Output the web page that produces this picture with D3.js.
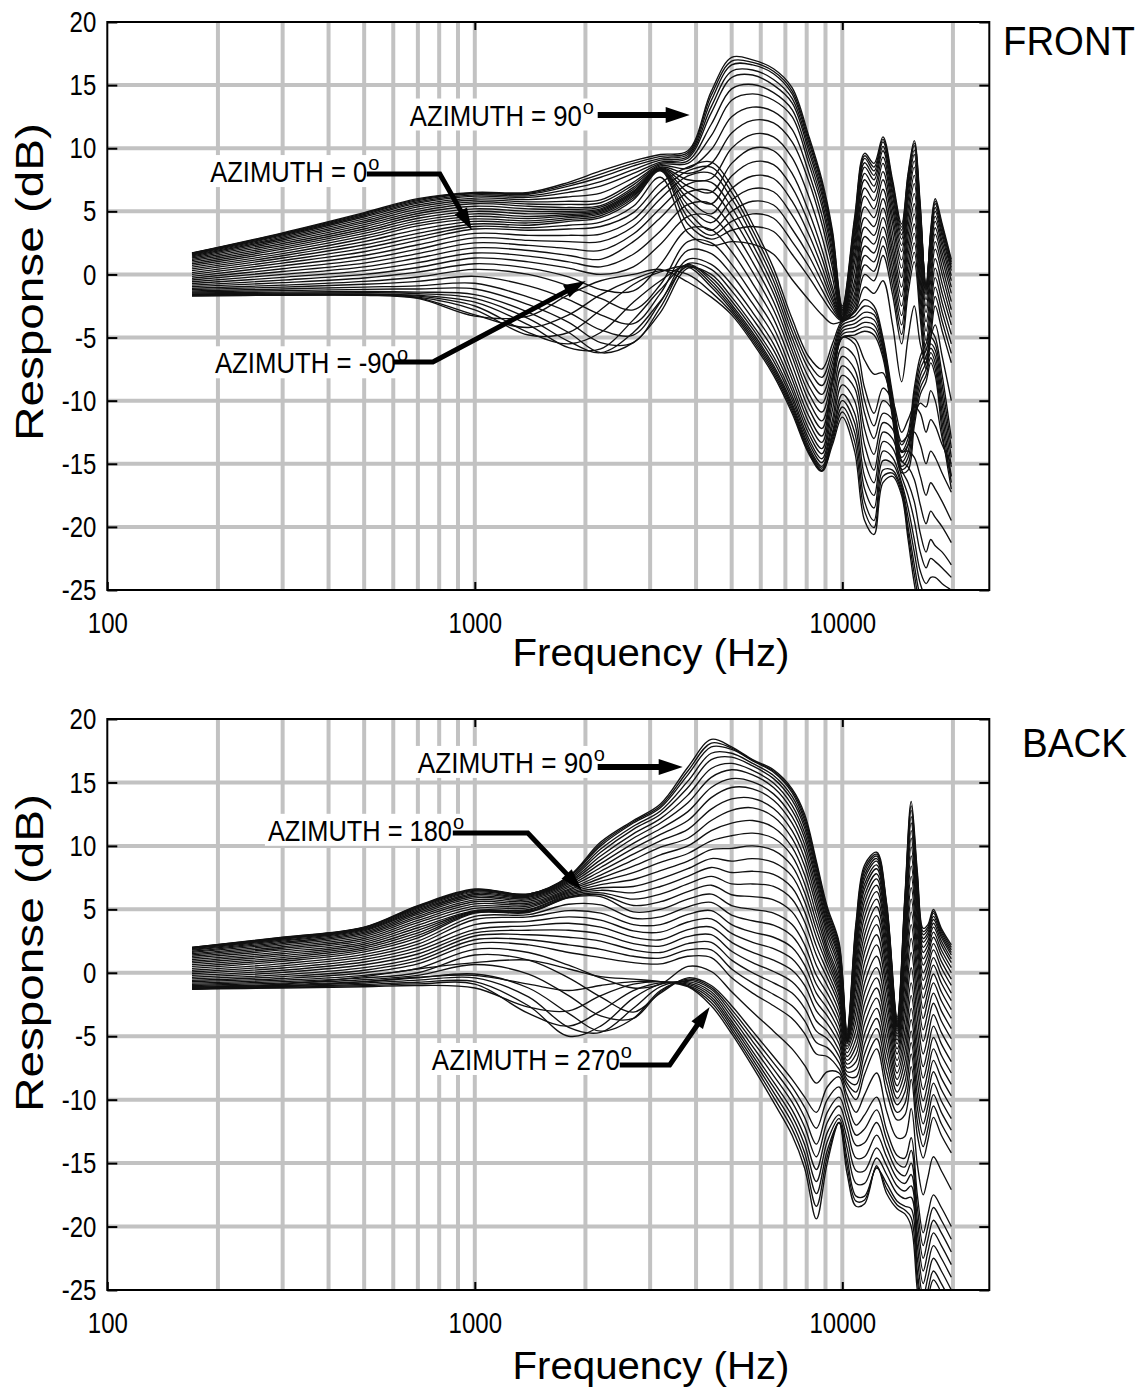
<!DOCTYPE html>
<html>
<head>
<meta charset="utf-8">
<title>Head-related frequency response, front and back azimuths</title>
<script src="https://cdn.jsdelivr.net/npm/d3@7"></script>
<style>
  html, body { margin: 0; padding: 0; background: #fff; }
  svg { display: block; }
  text { font-family: "Liberation Sans", Arial, Helvetica, sans-serif; fill: #000; }
</style>
</head>
<body>
<svg id="chart" width="1145" height="1393"></svg>
<script>
// ---------------- data ----------------
// Frequencies (Hz) at which each response curve is sampled.
const frontFreqs = [170, 300, 500, 700, 1000, 1400, 1800, 2200, 2700, 3200,
  3800, 4400, 5000, 5700, 6500, 7300, 8100, 8800, 9400, 10000,
  10800, 11500, 12200, 12900, 13700, 14500, 15100, 15700, 16300, 16900,
  17400, 17900, 18700, 19800];

const frontAzimuths = [90, 85, 80, 75, 70, 65, 60, 55, 50, 45, 40, 35, 30, 25, 20, 15, 10, 5, 0,
  -5, -10, -15, -20, -25, -30, -35, -40, -45, -50, -55, -60, -65, -70, -75, -80, -85, -90];

// Response (dB), one row per azimuth in frontAzimuths order.
const frontResponse = [
  [1.7, 3.3, 4.9, 6.0, 6.5, 6.5, 7.3, 8.2, 9.0, 9.5, 9.8, 14.5, 17.2, 17.0, 16.3, 14.8, 11.0, 7.5, 3.5, -2.5, 4.5, 9.6, 8.8, 10.9, 7.5, 4.0, 8.0, 10.6, 5.5, -1.5, 3.5, 6.0, 4.0, 1.2],
  [1.69, 3.25, 4.83, 5.93, 6.45, 6.43, 7.15, 7.95, 8.8, 9.35, 9.65, 14.2, 16.9, 16.8, 16.1, 14.55, 10.75, 7.25, 3.25, -2.65, 4.25, 9.4, 8.5, 10.7, 7.25, 3.75, 7.8, 10.4, 5.25, -1.25, 3.35, 5.8, 3.8, 1.0],
  [1.67, 3.2, 4.75, 5.85, 6.4, 6.35, 7.0, 7.7, 8.6, 9.2, 9.5, 13.8, 16.6, 16.6, 15.9, 14.3, 10.5, 7.0, 3.0, -2.8, 4.0, 9.2, 8.2, 10.5, 7.0, 3.5, 7.6, 10.2, 5.0, -1.0, 3.2, 5.6, 3.6, 0.8],
  [1.64, 3.13, 4.65, 5.75, 6.3, 6.23, 6.75, 7.35, 8.3, 9.05, 9.35, 13.3, 16.1, 16.2, 15.45, 13.95, 10.15, 6.65, 2.7, -2.9, 3.6, 8.85, 7.85, 10.15, 6.6, 3.15, 7.2, 9.85, 4.6, -0.9, 2.9, 5.3, 3.3, 0.55],
  [1.6, 3.05, 4.55, 5.65, 6.2, 6.1, 6.5, 7.0, 8.0, 8.9, 9.2, 12.8, 15.6, 15.8, 15.0, 13.6, 9.8, 6.3, 2.4, -3.0, 3.2, 8.5, 7.5, 9.8, 6.2, 2.8, 6.8, 9.5, 4.2, -0.8, 2.6, 5.0, 3.0, 0.3],
  [1.54, 2.95, 4.4, 5.5, 6.05, 5.93, 6.15, 6.45, 7.65, 8.8, 9.0, 11.9, 14.7, 15.05, 14.4, 13.05, 9.3, 5.85, 1.95, -3.1, 2.7, 8.0, 7.0, 9.3, 5.7, 2.3, 6.3, 9.0, 3.7, -1.0, 2.2, 4.6, 2.6, -0.1],
  [1.47, 2.85, 4.25, 5.35, 5.9, 5.75, 5.8, 5.9, 7.3, 8.7, 8.8, 11.0, 13.8, 14.3, 13.8, 12.5, 8.8, 5.4, 1.5, -3.2, 2.2, 7.5, 6.5, 8.8, 5.2, 1.8, 5.8, 8.5, 3.2, -1.2, 1.8, 4.2, 2.2, -0.5],
  [1.39, 2.73, 4.1, 5.18, 5.75, 5.58, 5.55, 5.68, 7.1, 8.6, 8.4, 9.9, 12.5, 13.25, 12.9, 11.5, 8.1, 4.7, 1.0, -3.3, 1.6, 6.85, 5.85, 8.15, 4.6, 1.15, 5.15, 7.85, 2.6, -1.6, 1.3, 3.7, 1.7, -1.0],
  [1.3, 2.6, 3.95, 5.0, 5.6, 5.4, 5.3, 5.45, 6.9, 8.5, 8.0, 8.8, 11.2, 12.2, 12.0, 10.5, 7.4, 4.0, 0.5, -3.4, 1.0, 6.2, 5.2, 7.5, 4.0, 0.5, 4.5, 7.2, 2.0, -2.0, 0.8, 3.2, 1.2, -1.5],
  [1.2, 2.45, 3.78, 4.83, 5.4, 5.2, 5.15, 5.33, 6.75, 8.45, 7.5, 7.6, 10.0, 11.1, 10.9, 9.25, 6.2, 3.0, -0.25, -3.4, 0.25, 5.35, 4.5, 6.75, 3.25, -0.25, 3.75, 6.4, 1.4, -2.5, 0.15, 2.6, 0.6, -2.15],
  [1.09, 2.3, 3.6, 4.65, 5.2, 5.0, 5.0, 5.2, 6.6, 8.4, 7.0, 6.5, 8.8, 10.0, 9.8, 8.0, 5.0, 2.0, -1.0, -3.4, -0.5, 4.5, 3.8, 6.0, 2.5, -1.0, 3.0, 5.6, 0.8, -3.0, -0.5, 2.0, 0.0, -2.8],
  [0.97, 2.15, 3.43, 4.45, 5.0, 4.8, 4.88, 5.1, 6.5, 8.35, 6.5, 5.6, 7.8, 8.9, 8.7, 6.9, 4.1, 1.3, -1.4, -3.45, -1.0, 3.75, 3.1, 5.25, 1.85, -1.75, 2.25, 4.8, 0.15, -3.75, -1.25, 1.25, -0.75, -3.4],
  [0.85, 2.0, 3.25, 4.25, 4.8, 4.6, 4.75, 5.0, 6.4, 8.3, 6.0, 4.8, 6.8, 7.8, 7.6, 5.8, 3.2, 0.6, -1.8, -3.5, -1.5, 3.0, 2.4, 4.5, 1.2, -2.5, 1.5, 4.0, -0.5, -4.5, -2.0, 0.5, -1.5, -4.0],
  [0.72, 1.83, 3.05, 4.05, 4.6, 4.43, 4.63, 4.9, 6.3, 8.3, 5.5, 4.1, 5.9, 6.8, 6.55, 4.7, 2.35, 0.0, -2.1, -3.55, -1.85, 2.25, 1.7, 3.75, 0.5, -3.25, 0.75, 3.25, -1.25, -5.25, -2.75, -0.25, -2.25, -4.75],
  [0.58, 1.65, 2.85, 3.85, 4.4, 4.25, 4.5, 4.8, 6.2, 8.3, 5.0, 3.5, 5.0, 5.8, 5.5, 3.6, 1.5, -0.6, -2.4, -3.6, -2.2, 1.5, 1.0, 3.0, -0.2, -4.0, 0.0, 2.5, -2.0, -6.0, -3.5, -1.0, -3.0, -5.5],
  [0.44, 1.48, 2.6, 3.55, 4.2, 4.08, 4.35, 4.65, 6.05, 8.25, 4.5, 3.1, 4.2, 4.8, 4.45, 2.6, 0.65, -1.2, -2.7, -3.65, -2.5, 0.75, 0.25, 2.25, -0.9, -4.75, -0.75, 1.75, -2.75, -6.75, -4.25, -1.75, -3.75, -6.25],
  [0.3, 1.3, 2.35, 3.25, 4.0, 3.9, 4.2, 4.5, 5.9, 8.2, 4.0, 2.8, 3.5, 3.8, 3.4, 1.6, -0.2, -1.8, -3.0, -3.7, -2.8, 0.0, -0.5, 1.5, -1.6, -5.5, -1.5, 1.0, -3.5, -7.5, -5.0, -2.5, -4.5, -7.0],
  [0.15, 1.1, 2.08, 2.98, 3.8, 3.7, 3.9, 4.15, 5.4, 7.7, 3.3, 2.3, 2.6, 2.4, 1.6, -0.4, -2.0, -3.2, -3.9, -3.7, -3.0, -1.0, -1.5, -0.5, -4.0, -8.5, -5.0, -2.5, -5.5, -7.0, -5.0, -4.0, -6.5, -10.0],
  [0.0, 0.9, 1.8, 2.7, 3.6, 3.5, 3.6, 3.8, 4.9, 7.2, 8.5, 8.9, 7.0, 4.0, 0.5, -3.5, -6.5, -7.5, -5.5, -3.6, -3.0, -2.0, -2.5, -5.0, -9.5, -13.5, -12.5, -9.0, -6.5, -5.5, -4.5, -5.0, -8.0, -13.0],
  [-0.15, 0.68, 1.5, 2.35, 3.25, 3.1, 3.1, 3.2, 4.35, 6.6, 8.2, 8.5, 6.5, 3.5, 0.0, -4.0, -7.0, -8.15, -6.0, -3.8, -3.3, -2.5, -2.85, -5.25, -9.85, -14.0, -13.0, -9.5, -7.0, -6.0, -5.0, -5.5, -8.75, -13.75],
  [-0.3, 0.45, 1.2, 2.0, 2.9, 2.7, 2.6, 2.6, 3.8, 6.0, 7.8, 8.0, 6.0, 3.0, -0.5, -4.5, -7.5, -8.8, -6.5, -4.0, -3.6, -3.0, -3.2, -5.5, -10.2, -14.5, -13.5, -10.0, -7.5, -6.5, -5.5, -6.0, -9.5, -14.5],
  [-0.44, 0.23, 0.9, 1.65, 2.5, 2.3, 2.05, 1.9, 3.2, 5.25, 7.15, 7.3, 5.3, 2.4, -1.0, -5.0, -8.15, -9.5, -7.0, -4.25, -3.9, -3.4, -3.6, -5.75, -10.5, -14.85, -14.0, -10.5, -8.0, -7.0, -5.85, -6.5, -10.25, -15.25],
  [-0.58, 0.0, 0.6, 1.3, 2.1, 1.9, 1.5, 1.2, 2.6, 4.5, 6.5, 6.6, 4.6, 1.8, -1.5, -5.5, -8.8, -10.2, -7.5, -4.5, -4.2, -3.8, -4.0, -6.0, -10.8, -15.2, -14.5, -11.0, -8.5, -7.5, -6.2, -7.0, -11.0, -16.0],
  [-0.72, -0.23, 0.3, 0.93, 1.7, 1.45, 1.0, 0.6, 1.6, 3.45, 5.55, 5.6, 3.7, 1.0, -2.15, -6.0, -9.4, -10.9, -8.0, -4.75, -4.5, -4.15, -4.4, -6.3, -11.1, -15.45, -15.0, -11.5, -9.0, -8.0, -6.6, -7.5, -11.75, -16.5],
  [-0.85, -0.45, 0.0, 0.55, 1.3, 1.0, 0.5, 0.0, 0.6, 2.4, 4.6, 4.6, 2.8, 0.2, -2.8, -6.5, -10.0, -11.6, -8.5, -5.0, -4.8, -4.5, -4.8, -6.6, -11.4, -15.7, -15.5, -12.0, -9.5, -8.5, -7.0, -8.0, -12.5, -17.0],
  [-0.97, -0.65, -0.28, 0.18, 0.85, 0.5, -0.2, -1.2, -1.3, 0.8, 3.6, 3.55, 1.8, -0.7, -3.5, -7.15, -10.6, -12.2, -8.5, -5.0, -5.1, -6.8, -7.9, -7.8, -10.7, -14.1, -13.5, -11.2, -10.2, -10.5, -9.2, -10.0, -13.0, -16.0],
  [-1.09, -0.85, -0.55, -0.2, 0.4, 0.0, -0.9, -1.9, -2.8, -0.8, 2.6, 2.5, 0.8, -1.6, -4.2, -7.8, -11.2, -12.8, -8.5, -5.0, -5.5, -9.0, -11.0, -9.0, -10.0, -12.5, -11.5, -10.5, -11.0, -12.5, -11.5, -12.0, -13.5, -15.0],
  [-1.2, -1.0, -0.78, -0.55, -0.15, -0.9, -2.0, -3.2, -3.9, -1.5, 1.9, 1.65, 0.0, -2.3, -4.85, -8.3, -11.7, -13.3, -9.25, -5.75, -6.5, -10.0, -12.0, -10.0, -10.75, -13.25, -12.75, -12.5, -13.5, -15.0, -14.0, -14.5, -15.75, -17.25],
  [-1.3, -1.15, -1.0, -0.9, -0.7, -1.8, -3.0, -4.4, -4.8, -2.2, 1.2, 0.8, -0.8, -3.0, -5.5, -8.8, -12.2, -13.8, -10.0, -6.5, -7.5, -11.0, -13.0, -11.0, -11.5, -14.0, -14.0, -14.5, -16.0, -17.5, -16.5, -17.0, -18.0, -19.5],
  [-1.39, -1.28, -1.18, -1.15, -1.15, -2.4, -3.8, -5.4, -5.4, -2.6, 0.85, 0.4, -1.3, -3.5, -6.0, -9.2, -12.6, -14.2, -10.75, -7.25, -8.25, -12.25, -14.25, -11.75, -12.25, -14.75, -15.25, -16.25, -18.25, -19.75, -18.75, -19.25, -20.0, -21.25],
  [-1.47, -1.4, -1.35, -1.4, -1.6, -3.0, -4.6, -6.2, -5.4, -3.0, 0.5, 0.0, -1.8, -4.0, -6.5, -9.6, -13.0, -14.6, -11.5, -8.0, -9.0, -13.5, -15.5, -12.5, -13.0, -15.5, -16.5, -18.0, -20.5, -22.0, -21.0, -21.5, -22.0, -23.0],
  [-1.54, -1.48, -1.45, -1.52, -1.9, -3.5, -5.3, -6.2, -4.6, -2.1, 0.65, -0.25, -2.1, -4.3, -6.85, -9.9, -13.3, -14.9, -12.0, -8.75, -10.0, -14.75, -16.5, -13.25, -13.75, -16.0, -17.5, -19.5, -22.0, -23.25, -22.5, -22.75, -23.25, -24.0],
  [-1.6, -1.55, -1.55, -1.65, -2.2, -4.0, -5.8, -5.9, -3.6, -1.2, 0.8, -0.5, -2.4, -4.6, -7.2, -10.2, -13.6, -15.2, -12.5, -9.5, -11.0, -16.0, -17.5, -14.0, -14.5, -16.5, -18.5, -21.0, -23.5, -24.5, -24.0, -24.0, -24.5, -25.0],
  [-1.64, -1.59, -1.59, -1.72, -2.5, -4.6, -5.5, -4.6, -2.2, -0.5, 0.7, -0.75, -2.6, -4.8, -7.4, -10.4, -13.8, -15.35, -12.75, -10.0, -11.75, -17.0, -18.5, -14.75, -15.0, -16.75, -19.25, -22.0, -24.5, -25.5, -25.0, -25.0, -25.25, -25.75],
  [-1.67, -1.62, -1.62, -1.8, -2.8, -4.8, -4.6, -2.8, -0.8, 0.2, 0.6, -1.0, -2.8, -5.0, -7.6, -10.6, -14.0, -15.5, -13.0, -10.5, -12.5, -18.0, -19.5, -15.5, -15.5, -17.0, -20.0, -23.0, -25.5, -26.5, -26.0, -26.0, -26.0, -26.5],
  [-1.69, -1.64, -1.64, -1.85, -3.2, -4.2, -3.2, -1.6, -0.4, 0.3, 0.0, -1.4, -3.0, -5.2, -7.8, -10.8, -14.1, -15.55, -13.25, -10.9, -13.25, -18.75, -20.05, -16.0, -15.75, -17.25, -20.5, -23.75, -26.25, -27.25, -26.75, -26.75, -26.75, -27.25],
  [-1.7, -1.65, -1.65, -1.9, -3.3, -3.3, -1.6, -0.5, 0.0, 0.4, -0.6, -1.8, -3.2, -5.4, -8.0, -11.0, -14.2, -15.6, -13.5, -11.3, -14.0, -19.5, -20.6, -16.5, -16.0, -17.5, -21.0, -24.5, -27.0, -28.0, -27.5, -27.5, -27.5, -28.0]
];

const backFreqs = [170, 300, 500, 700, 1000, 1400, 1800, 2200, 2700, 3200,
  3800, 4400, 5000, 5700, 6500, 7300, 7900, 8500, 9100, 9800,
  10300, 10900, 11500, 12400, 13200, 14100, 14800, 15400, 16000, 16600,
  17100, 17700, 18600, 19800];

const backAzimuths = [90, 95, 100, 105, 110, 115, 120, 125, 130, 135, 140, 145, 150, 155, 160, 165, 170, 175, 180,
  185, 190, 195, 200, 205, 210, 215, 220, 225, 230, 235, 240, 245, 250, 255, 260, 265, 270];

// Response (dB), one row per azimuth in backAzimuths order.
const backResponse = [
  [2.0, 2.8, 3.6, 5.3, 6.6, 6.2, 7.6, 10.3, 12.0, 13.3, 16.2, 18.4, 17.8, 16.8, 16.0, 14.5, 12.5, 8.8, 5.2, 2.4, -4.5, 4.0, 8.5, 9.5, 5.5, -3.5, 6.0, 13.5, 8.0, 3.5, 3.8, 5.0, 3.5, 2.2],
  [1.99, 2.78, 3.58, 5.25, 6.55, 6.2, 7.55, 10.15, 11.9, 13.15, 15.9, 18.1, 17.7, 16.75, 15.9, 14.35, 12.25, 8.6, 5.0, 2.2, -4.65, 3.75, 8.25, 9.35, 5.35, -3.65, 5.8, 13.15, 7.7, 3.25, 3.6, 4.85, 3.35, 2.0],
  [1.97, 2.75, 3.55, 5.2, 6.5, 6.2, 7.5, 10.0, 11.8, 13.0, 15.6, 17.8, 17.6, 16.7, 15.8, 14.2, 12.0, 8.4, 4.8, 2.0, -4.8, 3.5, 8.0, 9.2, 5.2, -3.8, 5.6, 12.8, 7.4, 3.0, 3.4, 4.7, 3.2, 1.8],
  [1.94, 2.7, 3.5, 5.13, 6.43, 6.15, 7.4, 9.75, 11.55, 12.75, 15.1, 17.3, 17.3, 16.5, 15.55, 13.9, 11.7, 8.1, 4.55, 1.75, -4.9, 3.2, 7.7, 9.0, 5.0, -3.9, 5.3, 12.3, 7.0, 2.7, 3.15, 4.45, 3.0, 1.6],
  [1.9, 2.65, 3.45, 5.05, 6.35, 6.1, 7.3, 9.5, 11.3, 12.5, 14.6, 16.8, 17.0, 16.3, 15.3, 13.6, 11.4, 7.8, 4.3, 1.5, -5.0, 2.9, 7.4, 8.8, 4.8, -4.0, 5.0, 11.8, 6.6, 2.4, 2.9, 4.2, 2.8, 1.4],
  [1.84, 2.58, 3.38, 4.95, 6.25, 6.03, 7.2, 9.2, 10.95, 12.15, 14.0, 16.1, 16.5, 15.95, 14.95, 13.2, 11.0, 7.45, 4.0, 1.25, -5.1, 2.55, 7.0, 8.5, 4.5, -4.1, 4.6, 11.2, 6.1, 2.0, 2.55, 3.9, 2.5, 1.1],
  [1.78, 2.5, 3.3, 4.85, 6.15, 5.95, 7.1, 8.9, 10.6, 11.8, 13.4, 15.4, 16.0, 15.6, 14.6, 12.8, 10.6, 7.1, 3.7, 1.0, -5.2, 2.2, 6.6, 8.2, 4.2, -4.2, 4.2, 10.6, 5.6, 1.6, 2.2, 3.6, 2.2, 0.8],
  [1.7, 2.4, 3.2, 4.73, 6.03, 5.85, 6.98, 8.6, 10.2, 11.35, 12.7, 14.6, 15.3, 15.05, 14.1, 12.3, 10.1, 6.65, 3.35, 0.65, -5.25, 1.75, 6.1, 7.8, 3.8, -4.25, 3.7, 9.9, 5.0, 1.1, 1.8, 3.2, 1.8, 0.4],
  [1.61, 2.3, 3.1, 4.6, 5.9, 5.75, 6.85, 8.3, 9.8, 10.9, 12.0, 13.8, 14.6, 14.5, 13.6, 11.8, 9.6, 6.2, 3.0, 0.3, -5.3, 1.3, 5.6, 7.4, 3.4, -4.3, 3.2, 9.2, 4.4, 0.6, 1.4, 2.8, 1.4, 0.0],
  [1.51, 2.18, 2.98, 4.45, 5.75, 5.63, 6.73, 8.0, 9.35, 10.4, 11.3, 12.9, 13.7, 13.75, 12.95, 11.2, 9.0, 5.7, 2.55, -0.1, -5.35, 0.75, 5.0, 6.9, 2.9, -4.45, 2.6, 8.4, 3.7, 0.0, 0.9, 2.3, 0.9, -0.5],
  [1.41, 2.05, 2.85, 4.3, 5.6, 5.5, 6.6, 7.7, 8.9, 9.9, 10.6, 12.0, 12.8, 13.0, 12.3, 10.6, 8.4, 5.2, 2.1, -0.5, -5.4, 0.2, 4.4, 6.4, 2.4, -4.6, 2.0, 7.6, 3.0, -0.6, 0.4, 1.8, 0.4, -1.0],
  [1.3, 1.93, 2.7, 4.13, 5.43, 5.38, 6.5, 7.45, 8.4, 9.3, 10.0, 11.2, 11.8, 12.0, 11.45, 9.9, 7.7, 4.6, 1.75, -0.85, -5.4, -0.4, 3.7, 5.8, 1.8, -4.8, 1.3, 6.7, 2.2, -1.3, -0.2, 1.2, -0.2, -1.6],
  [1.18, 1.8, 2.55, 3.95, 5.25, 5.25, 6.4, 7.2, 7.9, 8.7, 9.4, 10.4, 10.8, 11.0, 10.6, 9.2, 7.0, 4.0, 1.4, -1.2, -5.4, -1.0, 3.0, 5.2, 1.2, -5.0, 0.6, 5.8, 1.4, -2.0, -0.8, 0.6, -0.8, -2.2],
  [1.05, 1.65, 2.4, 3.75, 5.08, 5.13, 6.3, 6.95, 7.35, 8.05, 8.8, 9.7, 9.8, 10.0, 9.65, 8.4, 6.3, 3.4, 1.0, -1.5, -5.5, -1.7, 2.3, 4.5, 0.6, -5.3, -0.2, 4.8, 0.5, -2.8, -1.5, -0.1, -1.5, -2.9],
  [0.91, 1.5, 2.25, 3.55, 4.9, 5.0, 6.2, 6.7, 6.8, 7.4, 8.2, 9.0, 8.8, 9.0, 8.7, 7.6, 5.6, 2.8, 0.6, -1.8, -5.6, -2.4, 1.6, 3.8, 0.0, -5.6, -1.0, 3.8, -0.4, -3.6, -2.2, -0.8, -2.2, -3.6],
  [0.78, 1.35, 2.1, 3.35, 4.85, 4.93, 6.1, 6.5, 6.3, 6.8, 7.6, 8.3, 7.9, 8.0, 7.75, 6.7, 4.8, 2.1, 0.1, -2.2, -5.8, -3.1, 0.8, 3.0, -0.7, -6.0, -1.9, 2.7, -1.4, -4.5, -3.1, -1.6, -3.0, -4.4],
  [0.64, 1.2, 1.95, 3.15, 4.8, 4.85, 6.0, 6.3, 5.8, 6.2, 7.0, 7.6, 7.0, 7.0, 6.8, 5.8, 4.0, 1.4, -0.4, -2.6, -6.0, -3.8, 0.0, 2.2, -1.4, -6.4, -2.8, 1.6, -2.4, -5.4, -4.0, -2.4, -3.8, -5.2],
  [0.5, 1.05, 1.8, 2.95, 4.75, 4.8, 5.95, 6.15, 5.3, 5.6, 6.4, 6.9, 6.15, 6.0, 5.75, 4.8, 3.1, 0.6, -1.0, -3.1, -6.3, -4.5, -0.8, 1.3, -2.2, -6.9, -3.7, 0.4, -3.5, -6.4, -5.0, -3.3, -4.7, -6.1],
  [0.35, 0.9, 1.65, 2.75, 4.7, 4.75, 5.9, 6.0, 4.8, 5.0, 5.8, 6.2, 5.3, 5.0, 4.7, 3.8, 2.2, -0.2, -1.6, -3.6, -6.6, -5.2, -1.6, 0.4, -3.0, -7.4, -4.6, -0.8, -4.6, -7.4, -6.0, -4.2, -5.6, -7.0],
  [0.2, 0.72, 1.45, 2.5, 4.45, 4.58, 5.4, 5.35, 4.3, 4.4, 5.2, 5.55, 4.55, 4.1, 3.75, 2.9, 1.4, -0.9, -2.2, -4.1, -6.9, -5.8, -2.4, -0.4, -3.8, -7.9, -5.4, -1.8, -5.6, -8.3, -6.9, -5.1, -6.5, -7.9],
  [0.06, 0.55, 1.25, 2.25, 4.2, 4.4, 4.9, 4.7, 3.8, 3.8, 4.6, 4.9, 3.8, 3.2, 2.8, 2.0, 0.6, -1.6, -2.8, -4.6, -7.2, -6.4, -3.2, -1.2, -4.6, -8.4, -6.2, -2.8, -6.6, -9.2, -7.8, -6.0, -7.4, -8.8],
  [-0.08, 0.38, 1.05, 2.0, 3.8, 4.05, 4.4, 4.15, 3.3, 3.2, 4.0, 4.25, 3.1, 2.4, 1.9, 1.1, -0.2, -2.3, -3.4, -5.1, -7.5, -7.0, -4.0, -2.0, -5.4, -8.9, -7.0, -3.7, -7.6, -10.1, -8.7, -6.9, -8.3, -9.7],
  [-0.21, 0.2, 0.85, 1.75, 3.4, 3.7, 3.9, 3.6, 2.8, 2.6, 3.4, 3.6, 2.4, 1.6, 1.0, 0.2, -1.0, -3.0, -4.0, -5.6, -7.8, -7.6, -4.8, -2.8, -6.2, -9.4, -7.8, -4.6, -8.6, -11.0, -9.6, -7.8, -9.2, -10.6],
  [-0.35, 0.03, 0.63, 1.48, 3.15, 3.35, 3.35, 3.05, 2.3, 2.1, 2.85, 3.0, 1.7, 0.8, 0.1, -0.7, -1.9, -3.8, -4.6, -6.1, -8.1, -8.2, -5.6, -3.6, -7.0, -9.9, -8.6, -5.5, -9.6, -11.9, -10.5, -8.7, -10.1, -11.5],
  [-0.48, -0.15, 0.4, 1.2, 2.9, 3.0, 2.8, 2.5, 1.8, 1.6, 2.3, 2.4, 1.0, 0.0, -0.8, -1.6, -2.8, -4.6, -5.2, -6.6, -8.4, -8.8, -6.4, -4.4, -7.8, -10.4, -9.4, -6.4, -10.6, -12.8, -11.4, -9.6, -11.0, -12.4],
  [-0.6, -0.3, 0.2, 0.95, 2.6, 2.6, 2.2, 1.85, 1.3, 1.15, 1.8, 1.8, 0.3, -0.8, -1.7, -2.6, -3.8, -5.5, -5.9, -7.1, -8.7, -9.4, -7.2, -5.2, -8.6, -11.0, -10.3, -7.4, -11.7, -13.7, -12.3, -10.5, -11.9, -13.3],
  [-0.71, -0.45, 0.0, 0.7, 2.3, 2.2, 1.6, 1.2, 0.8, 0.7, 1.3, 1.2, -0.4, -1.6, -2.6, -3.6, -4.8, -6.4, -6.6, -7.6, -9.0, -10.0, -8.0, -6.0, -9.4, -11.6, -11.2, -8.4, -12.8, -14.6, -13.2, -11.4, -12.8, -14.2],
  [-0.81, -0.58, -0.2, 0.35, 1.85, 1.6, 0.6, -0.4, -1.2, -0.9, 0.5, 0.1, -1.5, -3.1, -4.6, -6.0, -7.3, -8.7, -7.8, -7.9, -9.6, -11.0, -9.6, -7.9, -10.9, -13.0, -12.9, -10.7, -15.1, -17.5, -16.1, -14.5, -15.6, -17.1],
  [-0.91, -0.7, -0.4, 0.0, 1.4, 1.0, -0.4, -1.9, -3.1, -1.6, -0.4, -1.0, -2.6, -4.6, -6.6, -8.4, -9.8, -11.0, -9.0, -8.2, -10.2, -12.0, -11.2, -9.8, -12.4, -14.4, -14.6, -13.0, -17.5, -20.5, -19.0, -17.5, -18.5, -20.0],
  [-1.0, -0.81, -0.55, -0.2, 0.65, -0.1, -1.8, -3.4, -3.6, -1.5, -0.5, -1.15, -2.9, -5.0, -7.1, -9.0, -10.6, -12.25, -10.0, -9.0, -10.85, -12.8, -12.3, -10.8, -13.1, -15.0, -15.3, -14.0, -18.5, -21.5, -20.0, -18.5, -19.5, -21.0],
  [-1.08, -0.92, -0.7, -0.4, -0.1, -1.2, -3.2, -4.6, -3.6, -1.4, -0.6, -1.3, -3.2, -5.4, -7.6, -9.6, -11.4, -13.5, -11.0, -9.8, -11.5, -13.6, -13.4, -11.8, -13.8, -15.6, -16.0, -15.0, -19.5, -22.5, -21.0, -19.5, -20.5, -22.0],
  [-1.14, -1.0, -0.81, -0.58, -0.4, -1.9, -4.3, -4.7, -2.8, -1.1, -0.7, -1.5, -3.5, -5.8, -8.1, -10.2, -12.15, -14.5, -11.8, -10.5, -12.25, -14.6, -14.5, -12.8, -14.5, -16.2, -16.6, -15.9, -20.5, -23.5, -22.0, -20.5, -21.5, -23.0],
  [-1.2, -1.08, -0.92, -0.75, -0.7, -2.6, -5.0, -4.2, -2.0, -0.9, -0.8, -1.7, -3.8, -6.2, -8.6, -10.8, -12.9, -15.5, -12.6, -11.2, -13.0, -15.6, -15.6, -13.8, -15.2, -16.8, -17.2, -16.8, -21.5, -24.5, -23.0, -21.5, -22.5, -24.0],
  [-1.24, -1.14, -1.01, -0.88, -0.9, -3.2, -4.2, -3.0, -1.4, -0.8, -0.9, -1.9, -4.05, -6.5, -9.0, -11.3, -13.55, -16.45, -13.3, -11.5, -13.8, -16.6, -16.6, -14.6, -15.9, -17.4, -17.8, -17.7, -22.5, -25.5, -24.0, -22.5, -23.5, -25.0],
  [-1.28, -1.2, -1.1, -1.0, -1.2, -2.7, -3.0, -1.8, -0.9, -0.7, -1.0, -2.1, -4.3, -6.8, -9.4, -11.8, -14.2, -17.4, -14.0, -11.8, -14.6, -17.6, -17.6, -15.4, -16.6, -18.0, -18.4, -18.6, -23.5, -26.5, -25.0, -23.5, -24.5, -26.0],
  [-1.29, -1.05, -0.7, -0.35, -0.2, -0.9, -1.4, -1.0, -0.7, -0.7, -1.05, -2.35, -4.55, -7.1, -9.8, -12.3, -14.8, -18.4, -14.5, -11.8, -15.2, -18.0, -17.9, -15.3, -17.0, -18.3, -18.7, -19.3, -24.2, -27.2, -25.7, -24.2, -25.2, -26.7],
  [-1.3, -0.9, -0.3, 0.3, 0.8, 1.0, 0.3, -0.3, -0.5, -0.7, -1.1, -2.6, -4.8, -7.4, -10.2, -12.8, -15.4, -19.4, -15.0, -11.8, -15.8, -18.4, -18.2, -15.2, -17.4, -18.6, -19.0, -20.0, -25.0, -28.0, -26.5, -25.0, -26.0, -27.5]
];

// Axis ticks and grid positions.
const yTickValues = [20, 15, 10, 5, 0, -5, -10, -15, -20, -25];
const xTickValues = [100, 1000, 10000];
const xFrameTicks = [1000, 10000];
const gridFreqs = [200, 300, 400, 500, 600, 700, 800, 900, 1000,
  2000, 3000, 4000, 5000, 6000, 7000, 8000, 9000, 10000, 20000];
const gridLevels = [15, 10, 5, 0, -5, -10, -15, -20];

// Callouts, anchored in (Hz, dB); the last path point is the arrow tip.
const frontNotes = [
  { label: "AZIMUTH = 90", at: [665.6, 11.8], len: 172, path: [[2160, 12.63], [3843, 12.63]], block: true },
  { label: "AZIMUTH = 0", at: [190.5, 7.32], len: 157, path: [[508.5, 7.95], [803.3, 7.95], [981.3, 3.52]], block: false },
  { label: "AZIMUTH = -90", at: [196.3, -7.83], len: 181, path: [[598.4, -6.94], [768.9, -6.94], [2004, -0.52]], block: false }
];
const backNotes = [
  { label: "AZIMUTH = 90", at: [699.8, 15.75], len: 175, path: [[2160, 16.22], [3679, 16.22]], block: true },
  { label: "AZIMUTH = 180", at: [273.5, 10.4], len: 184, path: [[871.3, 11.02], [1394, 11.02], [1954, 6.53]], block: false },
  { label: "AZIMUTH = 270", at: [764.1, -7.66], len: 188, path: [[2480, -7.27], [3391, -7.27], [4357, -2.70]], block: false }
];

// ---------------- layout ----------------
const svg = d3.select("#chart");
const defs = svg.append("defs");
const plotLeft = 107.3, plotRight = 989.3;
const fMax = Math.pow(10, 4.4);
const gridColor = "#c2c2c2";
const labelFormat = d => String(d);   // plain hyphen-minus, as on the printed axes

const panels = [
  { id: "front", top: 22, bottom: 590, freqs: frontFreqs, rows: frontResponse, notes: frontNotes,
    title: "FRONT", titleX: 1003, titleY: 55, titleLen: 132, xTitleY: 666, yTitleY: 282 },
  { id: "back", top: 719, bottom: 1290, freqs: backFreqs, rows: backResponse, notes: backNotes,
    title: "BACK", titleX: 1022, titleY: 757, titleLen: 105, xTitleY: 1379, yTitleY: 953 }
];

function arrowHead(g, tip, from, length, half) {
  const dx = tip[0] - from[0], dy = tip[1] - from[1];
  const d = Math.hypot(dx, dy), ux = dx / d, uy = dy / d;
  const bx = tip[0] - ux * length, by = tip[1] - uy * length;
  g.append("path")
    .attr("d", `M${tip[0]},${tip[1]}L${bx - uy * half},${by + ux * half}L${bx + uy * half},${by - ux * half}Z`)
    .attr("fill", "#000");
  return [bx + ux * 2, by + uy * 2];
}

function drawPanel(p) {
  const x = d3.scaleLog().domain([100, fMax]).range([plotLeft, plotRight]);
  const y = d3.scaleLinear().domain([-25, 20]).range([p.bottom, p.top]);
  const g = svg.append("g").attr("class", "panel-" + p.id);

  // grid
  g.append("g").selectAll("line").data(gridFreqs).join("line")
    .attr("x1", d => x(d)).attr("x2", d => x(d))
    .attr("y1", p.top).attr("y2", p.bottom)
    .attr("stroke", gridColor).attr("stroke-width", 4);
  g.append("g").selectAll("line").data(gridLevels).join("line")
    .attr("x1", plotLeft).attr("x2", plotRight)
    .attr("y1", d => y(d)).attr("y2", d => y(d))
    .attr("stroke", gridColor).attr("stroke-width", 4);

  // curves
  const clipId = "clip-" + p.id;
  defs.append("clipPath").attr("id", clipId).append("rect")
    .attr("x", plotLeft).attr("y", p.top)
    .attr("width", plotRight - plotLeft).attr("height", p.bottom - p.top);
  const line = d3.line()
    .defined((d, i) => i < p.freqs.length && Number.isFinite(d))
    .x((d, i) => x(p.freqs[i]))
    .y(d => y(d))
    .curve(d3.curveCatmullRom.alpha(0.5));
  g.append("g").attr("clip-path", `url(#${clipId})`)
    .selectAll("path").data(p.rows).join("path")
    .attr("d", line)
    .attr("fill", "none").attr("stroke", "#111")
    .attr("stroke-width", 1.35).attr("stroke-linejoin", "round");

  // frame
  g.append("rect").attr("x", plotLeft).attr("y", p.top)
    .attr("width", plotRight - plotLeft).attr("height", p.bottom - p.top)
    .attr("fill", "none").attr("stroke", "#000").attr("stroke-width", 2);

  // axes (ticks point inwards)
  const styleAxis = sel => {
    sel.select(".domain").remove();
    sel.selectAll(".tick line").attr("stroke", "#000").attr("stroke-width", 2);
  };
  const sx = 0.8;
  g.append("g").attr("transform", `translate(${plotLeft},0)`)
    .call(d3.axisLeft(y).tickValues(yTickValues).tickSize(-10).tickPadding(10).tickFormat(labelFormat))
    .call(styleAxis)
    .call(sel => sel.selectAll(".tick text")
      .attr("font-size", 30).attr("font-family", null).attr("fill", "#000")
      .attr("x", -11 / sx).attr("transform", `scale(${sx},1)`));
  g.append("g").attr("transform", `translate(${plotRight},0)`)
    .call(d3.axisRight(y).tickValues(yTickValues).tickSize(-10).tickFormat(""))
    .call(styleAxis);
  g.append("g").attr("transform", `translate(0,${p.bottom})`)
    .call(d3.axisBottom(x).tickValues(xTickValues).tickSize(-8).tickPadding(22).tickFormat(labelFormat))
    .call(styleAxis)
    .call(sel => sel.selectAll(".tick text")
      .attr("font-size", 30).attr("font-family", null).attr("fill", "#000")
      .attr("transform", `scale(${sx},1)`));
  g.append("g").attr("transform", `translate(0,${p.top})`)
    .call(d3.axisTop(x).tickValues(xFrameTicks).tickSize(-8).tickFormat(""))
    .call(styleAxis);

  // axis titles
  g.append("text").attr("x", 651).attr("y", p.xTitleY)
    .attr("text-anchor", "middle").attr("font-size", 38)
    .attr("textLength", 277).attr("lengthAdjust", "spacingAndGlyphs")
    .text("Frequency  (Hz)");
  g.append("text")
    .attr("transform", `translate(43,${p.yTitleY}) rotate(-90)`)
    .attr("text-anchor", "middle").attr("font-size", 38)
    .attr("textLength", 318).attr("lengthAdjust", "spacingAndGlyphs")
    .text("Response  (dB)");

  // panel title
  g.append("text").attr("x", p.titleX).attr("y", p.titleY)
    .attr("font-size", 40).attr("textLength", p.titleLen).attr("lengthAdjust", "spacingAndGlyphs")
    .text(p.title);

  // callouts: label with a raised "o" for degrees, then a leader ending in an arrowhead
  const ng = g.append("g").attr("class", "callouts");
  p.notes.forEach(n => {
    const tx = x(n.at[0]), ty = y(n.at[1]);
    ng.append("rect").attr("x", tx - 3).attr("y", ty - 27)
      .attr("width", n.len + 22).attr("height", 32).attr("fill", "#fff");
    const t = ng.append("text").attr("x", tx).attr("y", ty).attr("font-size", 30);
    t.append("tspan").attr("textLength", n.len).attr("lengthAdjust", "spacingAndGlyphs").text(n.label);
    t.append("tspan").attr("x", tx + n.len + 1).attr("dy", -12).attr("font-size", 20).text("o");

    const pts = n.path.map(d => [x(d[0]), y(d[1])]);
    const tip = pts[pts.length - 1], prev = pts[pts.length - 2];
    const base = n.block ? arrowHead(ng, tip, prev, 24, 8) : arrowHead(ng, tip, prev, 22, 7);
    const shaft = pts.slice(0, -1).concat([base]);
    ng.append("path").attr("d", d3.line()(shaft))
      .attr("fill", "none").attr("stroke", "#000")
      .attr("stroke-width", n.block ? 6 : 5).attr("stroke-linejoin", "miter");
  });
}

panels.forEach(drawPanel);
</script>
</body>
</html>
